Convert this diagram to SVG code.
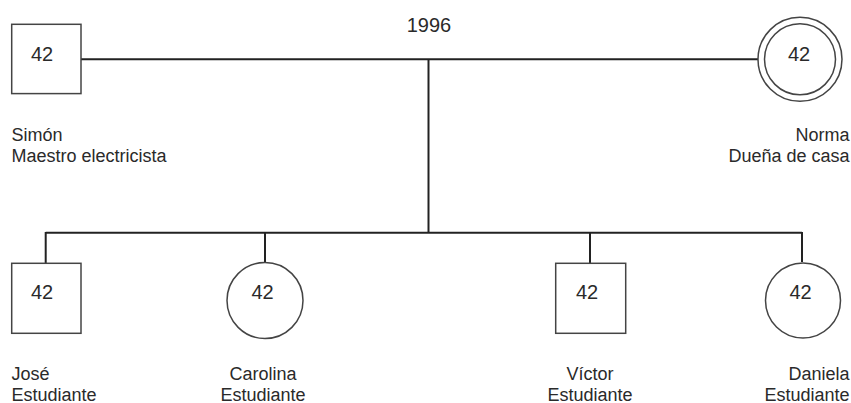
<svg xmlns="http://www.w3.org/2000/svg" width="851" height="403" viewBox="0 0 851 403">
<style>
.shape{fill:#fff;stroke:#444;stroke-width:1.5}
.conn{fill:none;stroke:#222;stroke-width:2}
text{font-family:"Liberation Sans",Arial,sans-serif;fill:#2a2a2a}
.age{font-size:20px;text-anchor:middle}
.lbl{font-size:18px}
.mid{text-anchor:middle}
.end{text-anchor:end}
</style>
<rect width="851" height="403" fill="#fff"/>
<g id="connectors">
<line class="conn" x1="81" y1="59.3" x2="758" y2="59.3"/>
<line class="conn" x1="428.5" y1="59.3" x2="428.5" y2="232.7"/>
<line class="conn" x1="45.7" y1="232.7" x2="802" y2="232.7"/>
<line class="conn" x1="45.7" y1="232" x2="45.7" y2="263.3"/>
<line class="conn" x1="265" y1="232" x2="265" y2="262"/>
<line class="conn" x1="590" y1="232" x2="590" y2="263.3"/>
<line class="conn" x1="802" y1="232" x2="802" y2="262"/>
</g>
<text class="age" x="429" y="31.7">1996</text>
<g id="simon">
<rect class="shape" x="11.7" y="24.3" width="69.3" height="69.3"/>
<text class="age" x="42" y="60.5">42</text>
<text class="lbl" x="11.5" y="140.5">Simón</text>
<text class="lbl" x="11.5" y="161.7">Maestro electricista</text>
</g>
<g id="norma">
<circle class="shape" cx="800" cy="59.3" r="42"/>
<circle class="shape" cx="800" cy="59.3" r="35.5"/>
<text class="age" x="799" y="60.5">42</text>
<text class="lbl end" x="849.5" y="140.5">Norma</text>
<text class="lbl end" x="849.5" y="161.7">Dueña de casa</text>
</g>
<g id="jose">
<rect class="shape" x="11.7" y="263.3" width="69.3" height="70"/>
<text class="age" x="42" y="299">42</text>
<text class="lbl" x="11.5" y="379.5">José</text>
<text class="lbl" x="11.5" y="400.5">Estudiante</text>
</g>
<g id="carolina">
<circle class="shape" cx="265" cy="300.5" r="38"/>
<text class="age" x="262.5" y="299">42</text>
<text class="lbl mid" x="263" y="379.5">Carolina</text>
<text class="lbl mid" x="263" y="400.5">Estudiante</text>
</g>
<g id="victor">
<rect class="shape" x="555.7" y="263.3" width="70" height="70"/>
<text class="age" x="587" y="299">42</text>
<text class="lbl mid" x="590" y="379.5">Víctor</text>
<text class="lbl mid" x="590" y="400.5">Estudiante</text>
</g>
<g id="daniela">
<circle class="shape" cx="803" cy="300.5" r="37.5"/>
<text class="age" x="800.5" y="299">42</text>
<text class="lbl end" x="849.5" y="379.5">Daniela</text>
<text class="lbl end" x="849.5" y="400.5">Estudiante</text>
</g>
</svg>
